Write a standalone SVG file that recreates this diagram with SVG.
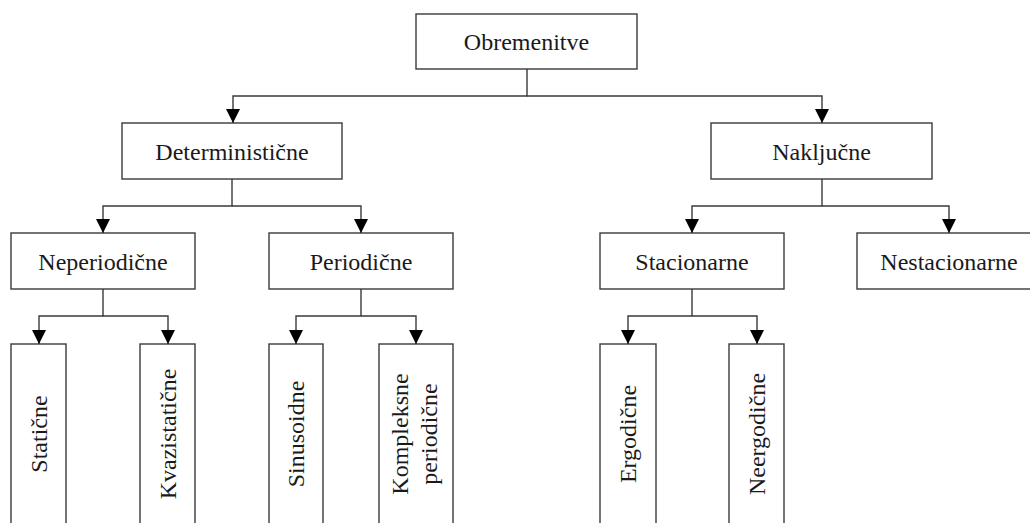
<svg xmlns="http://www.w3.org/2000/svg" width="1030" height="523" viewBox="0 0 1030 523">
<style>
.box{fill:#fff;stroke:#3a3a3a;stroke-width:1.4}
.lbl{font-family:"Liberation Serif","Times New Roman",serif;font-size:24px;fill:#1a1a1a;text-anchor:middle}
.con{fill:none;stroke:#3a3a3a;stroke-width:1.4}
</style>
<defs>
<marker id="ah" markerUnits="userSpaceOnUse" markerWidth="14" markerHeight="14" refX="14" refY="7" orient="auto">
<path d="M0,0 L14,7 L0,14 z" fill="#000"/>
</marker>
</defs>
<rect width="1030" height="523" fill="#fff"/>
<g id="n-obremenitve"><rect class="box" x="416" y="14" width="221" height="55"/><text class="lbl" x="526.5" y="50">Obremenitve</text></g>
<g id="n-deterministicne"><rect class="box" x="122" y="123" width="220" height="56"/><text class="lbl" x="232" y="160">Deterministične</text></g>
<g id="n-nakljucne"><rect class="box" x="711" y="123" width="221" height="56"/><text class="lbl" x="821.5" y="160">Naključne</text></g>
<g id="n-neperiodicne"><rect class="box" x="11" y="233" width="184" height="56"/><text class="lbl" x="103" y="270">Neperiodične</text></g>
<g id="n-periodicne"><rect class="box" x="269" y="233" width="184" height="56"/><text class="lbl" x="361" y="270">Periodične</text></g>
<g id="n-stacionarne"><rect class="box" x="600" y="233" width="184" height="56"/><text class="lbl" x="692" y="270">Stacionarne</text></g>
<g id="n-nestacionarne"><rect class="box" x="857" y="233" width="184" height="56"/><text class="lbl" x="949" y="270">Nestacionarne</text></g>
<g id="n-staticne"><rect class="box" x="11" y="344" width="55" height="190"/><text class="lbl" x="38.5" y="434" transform="rotate(-90 38.5 434) translate(0 8)">Statične</text></g>
<g id="n-kvazistaticne"><rect class="box" x="140" y="344" width="55" height="190"/><text class="lbl" x="167.5" y="434" transform="rotate(-90 167.5 434) translate(0 8)">Kvazistatične</text></g>
<g id="n-sinusoidne"><rect class="box" x="269" y="344" width="54" height="190"/><text class="lbl" x="296" y="434" transform="rotate(-90 296 434) translate(0 8)">Sinusoidne</text></g>
<g id="n-kompleksne"><rect class="box" x="379" y="344" width="74" height="190"/><text class="lbl" transform="rotate(-90 416 434)"><tspan x="416" y="426">Kompleksne</tspan><tspan x="416" y="455">periodične</tspan></text></g>
<g id="n-ergodicne"><rect class="box" x="600" y="344" width="56" height="190"/><text class="lbl" x="628" y="434" transform="rotate(-90 628 434) translate(0 8)">Ergodične</text></g>
<g id="n-neergodicne"><rect class="box" x="729" y="344" width="55" height="190"/><text class="lbl" x="756.5" y="434" transform="rotate(-90 756.5 434) translate(0 8)">Neergodične</text></g>
<g id="connectors">
<path class="con" d="M527,69 V96 H233 V123" marker-end="url(#ah)"/>
<path class="con" d="M527,96 H822 V123" marker-end="url(#ah)"/>
<path class="con" d="M232,179 V206 H103 V233" marker-end="url(#ah)"/>
<path class="con" d="M232,206 H361 V233" marker-end="url(#ah)"/>
<path class="con" d="M822,179 V206 H692 V233" marker-end="url(#ah)"/>
<path class="con" d="M822,206 H949 V233" marker-end="url(#ah)"/>
<path class="con" d="M103,289 V316 H39 V344" marker-end="url(#ah)"/>
<path class="con" d="M103,316 H168 V344" marker-end="url(#ah)"/>
<path class="con" d="M361,289 V316 H296 V344" marker-end="url(#ah)"/>
<path class="con" d="M361,316 H416 V344" marker-end="url(#ah)"/>
<path class="con" d="M692,289 V316 H628 V344" marker-end="url(#ah)"/>
<path class="con" d="M692,316 H757 V344" marker-end="url(#ah)"/>
</g>
</svg>
